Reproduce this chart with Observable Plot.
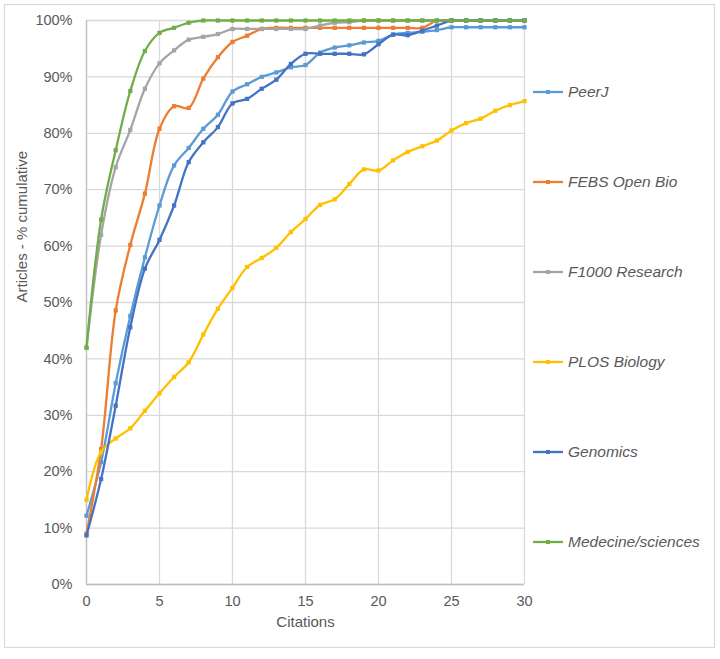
<!DOCTYPE html>
<html><head><meta charset="utf-8">
<script src="https://cdn.jsdelivr.net/npm/d3@7"></script>
<script src="https://cdn.jsdelivr.net/npm/@observablehq/plot@0.6"></script>
<style>body{margin:0;background:#fff}#chart{width:720px;height:659px}</style>
</head><body><div id="chart"></div>
<script>
const citations = [0,1,2,3,4,5,6,7,8,9,10,11,12,13,14,15,16,17,18,19,20,21,22,23,24,25,26,27,28,29,30];
const seriesNames = ["PeerJ","FEBS Open Bio","F1000 Research","PLOS Biology","Genomics","Medecine/sciences"];
const seriesColors = ["#5B9BD5","#ED7D31","#A5A5A5","#FFC000","#4472C4","#70AD47"];
const peerJ = [12.2,21.7,35.7,47.6,58.0,67.2,74.3,77.4,80.8,83.3,87.4,88.7,90.0,90.8,91.7,92.1,94.3,95.2,95.6,96.1,96.4,97.5,97.8,98.0,98.3,98.8,98.8,98.8,98.8,98.8,98.8];
const febs = [9.0,24.0,48.6,60.2,69.3,80.8,84.8,84.5,89.7,93.5,96.2,97.3,98.5,98.7,98.7,98.7,98.7,98.7,98.7,98.7,98.7,98.7,98.7,98.7,100,100,100,100,100,100,100];
const f1000 = [42.0,62.0,74.0,80.6,87.9,92.4,94.7,96.6,97.1,97.6,98.5,98.5,98.5,98.5,98.5,98.5,99.1,99.6,99.7,100,100,100,100,100,100,100,100,100,100,100,100];
const plos = [15.0,23.5,25.9,27.7,30.8,33.9,36.8,39.4,44.3,48.9,52.6,56.3,57.9,59.7,62.5,64.8,67.3,68.3,71.0,73.6,73.4,75.2,76.7,77.7,78.7,80.5,81.8,82.6,84.0,85.0,85.7];
const genomics = [8.7,18.7,31.7,45.6,56.0,61.1,67.2,74.9,78.4,81.1,85.3,86.1,87.9,89.5,92.3,94.1,94.1,94.1,94.1,94.0,95.8,97.5,97.4,98.2,99.1,100,100,100,100,100,100];
const medecine = [42.0,64.7,77.0,87.5,94.6,97.8,98.7,99.6,100,100,100,100,100,100,100,100,100,100,100,100,100,100,100,100,100,100,100,100,100,100,100];
const seriesValues = [peerJ, febs, f1000, plos, genomics, medecine];
const xTicks = [0,5,10,15,20,25,30];
const yTicks = [0,10,20,30,40,50,60,70,80,90,100];

const tables = seriesNames.map((name, i) =>
  seriesValues[i].map((v, j) => ({series: name, citations: citations[j], pct: v})));

const font = "'Liberation Sans', Arial, sans-serif";
const grey = "#595959";

const plot = Plot.plot({
  width: 720, height: 659,
  marginLeft: 86, marginRight: 196, marginTop: 20, marginBottom: 75,
  style: {fontFamily: font, fontSize: "14.5px", color: grey, background: "#fff", overflow: "visible"},
  x: {domain: [0, 30]},
  y: {domain: [0, 100]},
  marks: [
    Plot.gridX(xTicks, {stroke: "#D9D9D9", strokeOpacity: 1, strokeWidth: 1.3}),
    Plot.gridY(yTicks, {stroke: "#D9D9D9", strokeOpacity: 1, strokeWidth: 1.3}),
    Plot.ruleY([0], {stroke: "#BFBFBF", strokeWidth: 1.3}),
    Plot.ruleX([0], {stroke: "#BFBFBF", strokeWidth: 1.3}),
    Plot.axisX(xTicks, {tickSize: 0, tickPadding: 11, label: null, fill: grey}),
    Plot.axisY(yTicks, {tickSize: 0, tickPadding: 14, tickFormat: d => d + "%", label: null, fill: grey}),
    ...tables.flatMap((t, i) => [
      Plot.line(t, {x: "citations", y: "pct", stroke: seriesColors[i], strokeWidth: 2.3, curve: "catmull-rom"}),
      Plot.dot(t, {x: "citations", y: "pct", fill: seriesColors[i], symbol: "square", r: 2.4})
    ]),
    Plot.text(["Articles - % cumulative"], {frameAnchor: "left", rotate: -90, dx: -64, fill: grey, fontSize: 15}),
    Plot.text(["Citations"], {frameAnchor: "bottom", dy: 42, fill: grey, fontSize: 15})
  ]
});

const svg = d3.select(plot);
svg.insert("rect", ":first-child")
  .attr("x", 4.5).attr("y", 4.5).attr("width", 710).attr("height", 643)
  .attr("fill", "#fff").attr("stroke", "#D9D9D9").attr("stroke-width", 1.2);

const leg = svg.append("g").attr("text-anchor", "start");
seriesNames.forEach((name, i) => {
  const y = 92 + 90 * i;
  const g = leg.append("g");
  g.append("line").attr("x1", 533).attr("x2", 563).attr("y1", y).attr("y2", y)
    .attr("stroke", seriesColors[i]).attr("stroke-width", 2.3);
  g.append("rect").attr("x", 546).attr("y", y - 2).attr("width", 4).attr("height", 4)
    .attr("fill", seriesColors[i]);
  g.append("text").attr("x", 568).attr("y", y).attr("dy", "0.35em")
    .attr("text-anchor", "start")
    .attr("font-family", font).attr("font-size", 15.5).attr("font-style", "italic")
    .attr("fill", grey).text(name);
});

document.getElementById("chart").appendChild(plot);
</script>
</body></html>
